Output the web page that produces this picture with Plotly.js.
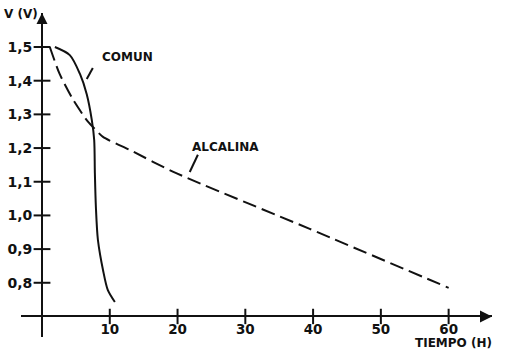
<!DOCTYPE html>
<html><head><meta charset="utf-8">
<script src="https://cdn.plot.ly/plotly-3.0.1.min.js"></script>
<style>html,body{margin:0;padding:0;background:#fff}#chart{width:520px;height:352px}</style>
</head><body><div id="chart"></div>
<script>
// ---- data ----
const tiempoComun = [1.9, 4.1, 5.6, 6.6, 7.35, 7.7, 7.8, 7.95, 8.25, 9.0, 9.7, 10.75];
const voltComun   = [1.50, 1.476, 1.42, 1.36, 1.283, 1.224, 1.126, 1.025, 0.927, 0.838, 0.779, 0.743];
const tiempoAlcalina = [1.15, 2.6, 4.6, 6.6, 7.5, 9.0, 13, 19.3, 39.5, 60];
const voltAlcalina   = [1.50, 1.42, 1.343, 1.283, 1.263, 1.233, 1.194, 1.13, 0.96, 0.785];
const xTickVals = [10, 20, 30, 40, 50, 60];
const xTickText = ['10', '20', '30', '40', '50', '60'];
const yTickVals = [0.8, 0.9, 1.0, 1.1, 1.2, 1.3, 1.4, 1.5];
const yTickText = ['0,8', '0,9', '1,0', '1,1', '1,2', '1,3', '1,4', '1,5'];
const serieNames = ['COMUN', 'ALCALINA'];
const xTitle = 'TIEMPO (H)';
const yTitle = 'V (V)';

// ---- layout constants ----
const W = 520, H = 352;
const xRange = [-3.1, 66.4], yRange = [0.639, 1.601];
const xDomain = [21 / W, 492 / W], yDomain = [(H - 337) / H, (H - 13) / H];
const origin = {x: 0, y: 0.7};
const frac = (v, r, d) => d[0] + (v - r[0]) / (r[1] - r[0]) * (d[1] - d[0]);
const FONT = 'DejaVu Sans';
const ink = '#111';

const traces = [
  {x: tiempoComun, y: voltComun, mode: 'lines', name: serieNames[0],
   line: {color: ink, width: 2, shape: 'spline', smoothing: 0.8}},
  {x: tiempoAlcalina, y: voltAlcalina, mode: 'lines', name: serieNames[1],
   line: {color: ink, width: 2, dash: '14px,6px', shape: 'spline', smoothing: 0.6}},
  // crossing tick marks
  {x: xTickVals, y: xTickVals.map(() => origin.y), mode: 'markers', cliponaxis: false, hoverinfo: 'skip',
   marker: {symbol: 'line-ns-open', size: 11, color: ink, line: {color: ink, width: 2}}},
  {x: yTickVals.map(() => origin.x), y: yTickVals, mode: 'markers', cliponaxis: false, hoverinfo: 'skip',
   marker: {symbol: 'line-ew-open', size: 12, color: ink, line: {color: ink, width: 2}}},
  // axis arrowheads
  {x: [origin.x], y: [yRange[1]], mode: 'markers', cliponaxis: false, hoverinfo: 'skip',
   marker: {symbol: 'arrow-up', size: 11, color: ink, line: {width: 0}}},
  {x: [xRange[1]], y: [origin.y], mode: 'markers', cliponaxis: false, hoverinfo: 'skip',
   marker: {symbol: 'arrow-right', size: 12, color: ink, line: {width: 0}}}
];

const tickFont = {family: FONT, size: 14, color: ink, weight: 700};
const layout = {
  width: W, height: H, margin: {l: 0, r: 0, t: 0, b: 0},
  paper_bgcolor: '#fff', plot_bgcolor: 'rgba(0,0,0,0)', showlegend: false,
  xaxis: {range: xRange, domain: xDomain, anchor: 'free', position: frac(origin.y, yRange, yDomain),
    showline: true, linecolor: ink, linewidth: 2, showgrid: false, zeroline: false,
    ticks: '', tickvals: xTickVals, ticktext: xTickText, tickfont: {family: FONT, size: 13.5, color: ink, weight: 700}, ticklabelstandoff: 0},
  yaxis: {range: yRange, domain: yDomain, anchor: 'free', position: frac(origin.x, xRange, xDomain),
    showline: true, linecolor: ink, linewidth: 2, showgrid: false, zeroline: false,
    ticks: '', tickvals: yTickVals, ticktext: yTickText, tickfont: tickFont, ticklabelstandoff: 6},
  shapes: [
    {type: 'line', xref: 'x', yref: 'y', x0: 6.6, y0: 1.405, x1: 7.5, y1: 1.438, line: {color: ink, width: 2}},
    {type: 'line', xref: 'x', yref: 'y', x0: 21.8, y0: 1.129, x1: 23.0, y1: 1.18, line: {color: ink, width: 2}}
  ],
  annotations: [
    {text: serieNames[0], x: 12.65, y: 1.47, xref: 'x', yref: 'y', showarrow: false,
     font: {family: FONT, size: 12, color: ink, weight: 700}},
    {text: serieNames[1], x: 27.1, y: 1.203, xref: 'x', yref: 'y', showarrow: false,
     font: {family: FONT, size: 12, color: ink, weight: 700}},
    {text: yTitle, x: 2 / W, y: 1 - 14 / H, xref: 'paper', yref: 'paper', xanchor: 'left', yanchor: 'middle',
     showarrow: false, font: {family: FONT, size: 12, color: ink, weight: 700}},
    {text: xTitle, x: 494 / W, y: 1 - 343 / H, xref: 'paper', yref: 'paper', xanchor: 'right', yanchor: 'middle',
     showarrow: false, font: {family: FONT, size: 12, color: ink, weight: 700}}
  ]
};
Plotly.newPlot('chart', traces, layout, {staticPlot: true, displayModeBar: false});
</script></body></html>
